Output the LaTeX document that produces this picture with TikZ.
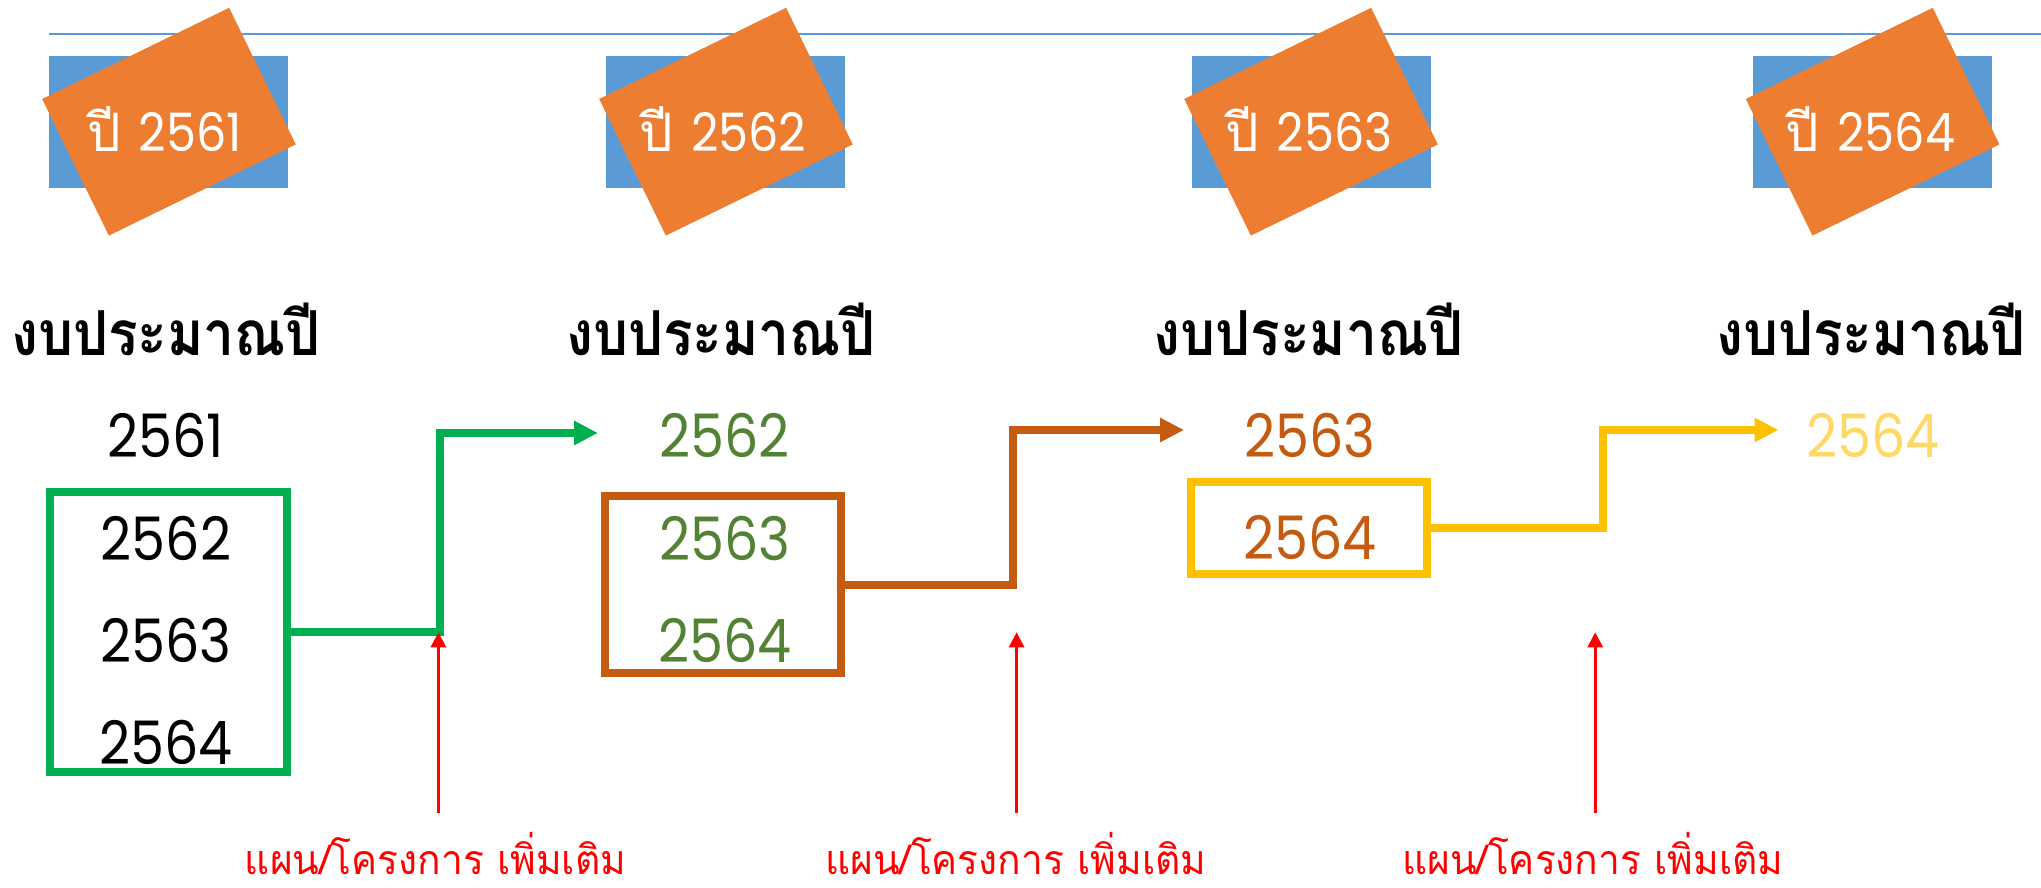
\documentclass[tikz,border=0pt]{standalone}
\usepackage{fontspec}
\usetikzlibrary{arrows.meta}
\newfontfamily\thaifont[Script=Thai]{Loma}
\newfontfamily\thaihead[Script=Thai,FakeStretch=0.89]{Loma}
\newfontfamily\thainote[Script=Thai,FakeStretch=0.95]{Loma}
\newfontfamily\digfont[FakeStretch=0.9]{Poppins}
\definecolor{cblue}{HTML}{5B9BD5}
\definecolor{corange}{HTML}{ED7D31}
\definecolor{cgreen}{HTML}{00B050}
\definecolor{colive}{HTML}{548235}
\definecolor{cbrown}{HTML}{C55A11}
\definecolor{cyellow}{HTML}{FFC000}
\definecolor{clight}{HTML}{FFD966}
\definecolor{cred}{HTML}{FF0000}
\tikzset{
  bluebox/.style={fill=cblue,draw=none,minimum width=239pt,minimum height=132pt,inner sep=0pt},
  orangebox/.style={fill=corange,draw=none,minimum width=208pt,minimum height=152pt,inner sep=0pt,rotate=26},
  yeartext/.style={text=white,anchor=base,inner sep=0pt,font=\fontsize{53}{56}\selectfont},
  heading/.style={anchor=base,inner sep=0pt,font=\thaihead\bfseries\fontsize{62}{66}\selectfont},
  num/.style={anchor=base,inner sep=0pt,font=\digfont\fontsize{60}{62}\selectfont},
  yearbox/.style={draw,line width=8pt,inner sep=0pt},
  flow/.style={line width=8pt,line join=miter,-{Triangle[length=24pt,width=23pt]}},
  redarrow/.style={draw=cred,line width=3pt,-{Triangle[length=15pt,width=15pt]}},
  note/.style={text=cred,anchor=base,inner sep=0pt,font=\thainote\fontsize{41}{44}\selectfont}
}
\begin{document}
\begin{tikzpicture}[x=1pt,y=-1pt]
\useasboundingbox (0,0) rectangle (2041,888);
% top line
\coordinate (la) at (49,34);
\coordinate (lb) at (2041,34);
\draw[cblue,line width=2pt] (la) -- (lb);
% year tags
\node[bluebox] (b1) at (168.5,122) {};
\node[orangebox] (o1) at (169,121.7) {};
\node[yeartext] (y1) at (164.7,151.5) {\thaifont ปี\ \digfont 2561};
\node[bluebox] (b2) at (725.4,122) {};
\node[orangebox] (o2) at (726,121.7) {};
\node[yeartext] (y2) at (723,151.5) {\thaifont ปี\ \digfont 2562};
\node[bluebox] (b3) at (1311.7,122) {};
\node[orangebox] (o3) at (1311,121.7) {};
\node[yeartext] (y3) at (1309,151.5) {\thaifont ปี\ \digfont 2563};
\node[bluebox] (b4) at (1872.5,122) {};
\node[orangebox] (o4) at (1872.6,121.7) {};
\node[yeartext] (y4) at (1870.5,151.5) {\thaifont ปี\ \digfont 2564};
% headings
\node[heading] (h1) at (166,355) {งบประมาณปี};
\node[heading] (h2) at (721,355) {งบประมาณปี};
\node[heading] (h3) at (1308.6,355) {งบประมาณปี};
\node[heading] (h4) at (1871,355) {งบประมาณปี};
% column 1
\node[num] (n11) at (166,457) {2561};
\node[num] (n12) at (166,560) {2562};
\node[num] (n13) at (166,662) {2563};
\node[num] (n14) at (166,764) {2564};
\node[yearbox,draw=cgreen,minimum width=236.6pt,minimum height=280pt] (g1) at (168.3,631.7) {};
% column 2
\node[num,text=colive] (n21) at (724.8,457) {2562};
\node[num,text=colive] (n22) at (724.8,560) {2563};
\node[num,text=colive] (n23) at (724.8,662) {2564};
\node[yearbox,draw=cbrown,minimum width=236.7pt,minimum height=177pt] (g2) at (723,584.8) {};
% column 3
\node[num,text=cbrown] (n31) at (1310,457) {2563};
\node[num,text=cbrown] (n32) at (1310,559.5) {2564};
\node[yearbox,draw=cyellow,minimum width=236.3pt,minimum height=92pt] (g3) at (1309.2,528.3) {};
% column 4
\node[num,text=clight] (n41) at (1872.8,457) {2564};
% flows
\coordinate (t1) at (439.5,433);
\coordinate (e1) at (598,433);
\draw[flow,cgreen] (g1.east) -| (t1) -- (e1);
\coordinate (t2) at (1012.5,430);
\coordinate (e2) at (1184,430);
\draw[flow,cbrown] (g2.east) -| (t2) -- (e2);
\coordinate (t3) at (1602.5,430);
\coordinate (e3) at (1778.5,430);
\draw[flow,cyellow] (g3.east) -| (t3) -- (e3);
% notes and red arrows
\node[note] (p1) at (435.5,874) {แผน/โครงการ เพิ่มเติม};
\node[note] (p2) at (1015.7,874) {แผน/โครงการ เพิ่มเติม};
\node[note] (p3) at (1592.7,874) {แผน/โครงการ เพิ่มเติม};
\coordinate (r1a) at (438.4,813);
\coordinate (r1b) at (438.4,632.3);
\coordinate (r2a) at (1016.6,813);
\coordinate (r2b) at (1016.6,632.3);
\coordinate (r3a) at (1595.2,813);
\coordinate (r3b) at (1595.2,632.3);
\draw[redarrow] (r1a) -- (r1b);
\draw[redarrow] (r2a) -- (r2b);
\draw[redarrow] (r3a) -- (r3b);
\end{tikzpicture}
\end{document}
